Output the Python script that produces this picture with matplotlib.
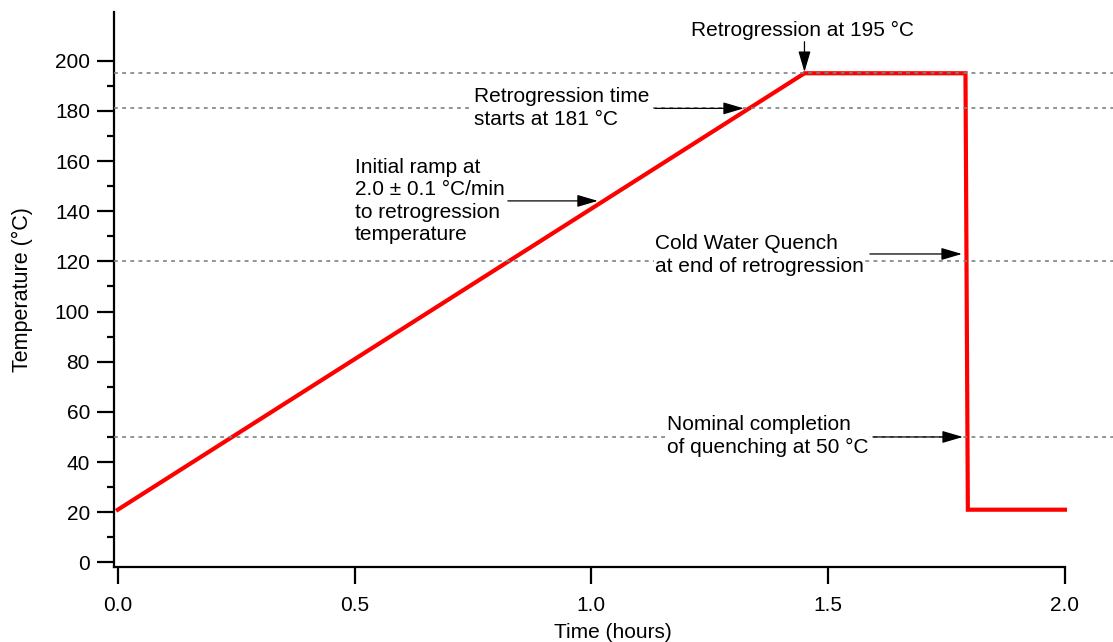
import matplotlib.pyplot as plt
import numpy as np

plt.rcParams['font.family'] = ['Liberation Sans', 'DejaVu Sans']

# temperature profile (hours, deg C)
time_h = [0.0, 1.45, 1.79, 1.795, 2.0]
temp_c = [21, 195, 195, 21, 21]

# reference levels (deg C)
ref_levels = [195, 181, 120, 50]

fig = plt.figure(figsize=(11.13, 6.42), dpi=100)
ax = fig.add_axes([0.102, 0.117, 0.898, 0.865])

for lvl in ref_levels:
    ax.axhline(lvl, color='#808080', linestyle=(0, (2.3, 2.6)), linewidth=1.2, zorder=3)

ax.plot(time_h, temp_c, color='#ff0000', linewidth=3, zorder=2, solid_joinstyle='miter')

ax.set_xlim(-0.009, 2.1015)
ax.set_ylim(-1.8, 219.6)

ax.spines['top'].set_visible(False)
ax.spines['right'].set_visible(False)
ax.spines['left'].set_linewidth(1.6)
ax.spines['bottom'].set_linewidth(1.6)
ax.spines['bottom'].set_bounds(-0.009, 2.0)

ax.set_xticks([0.0, 0.5, 1.0, 1.5, 2.0])
ax.set_xticklabels(['0.0', '0.5', '1.0', '1.5', '2.0'])
ax.set_yticks(np.arange(0, 201, 20))
ax.set_yticks(np.arange(10, 200, 20), minor=True)
ax.tick_params(axis='both', which='major', direction='out', length=12, width=1.6,
               labelsize=15, colors='black')
ax.tick_params(axis='x', pad=9)
ax.tick_params(axis='y', pad=5)
ax.tick_params(axis='y', which='minor', direction='out', length=5, width=1.6)

ax.set_xlabel('Time (hours)', fontsize=15, labelpad=6)
ax.set_ylabel('Temperature (°C)', fontsize=15.5, labelpad=16)

box = dict(facecolor='white', edgecolor='none', pad=0.5)
arrow = dict(arrowstyle='-|>,head_length=0.85,head_width=0.25', color='black', lw=0.9,
             mutation_scale=15, shrinkA=0, shrinkB=0)
fs = 15
ls = 1.24

def px_x(px):
    return (px - 118) / 473.5

def px_y(py):
    return (562 - py) / 2.505

# Retrogression at 195
ax.text(px_x(803), px_y(31), 'Retrogression at 195 °C', ha='center', va='center', fontsize=fs, bbox=box, zorder=5)
ax.annotate('', xy=(1.45, 195.5), xytext=(1.45, px_y(42)), arrowprops=arrow, zorder=5)

# Retrogression time starts
ax.text(px_x(474), px_y(108), 'Retrogression time\nstarts at 181 °C', ha='left', va='center',
        fontsize=fs, linespacing=ls, bbox=box, zorder=5)
ax.annotate('', xy=(px_x(744), 181), xytext=(px_x(655), 181), arrowprops=arrow, zorder=5)

# Initial ramp
ax.text(px_x(355), px_y(201), 'Initial ramp at\n2.0 ± 0.1 °C/min\nto retrogression\ntemperature',
        ha='left', va='center', fontsize=fs, linespacing=ls, bbox=box, zorder=5)
ax.annotate('', xy=(px_x(598), px_y(201)), xytext=(px_x(508), px_y(201)), arrowprops=arrow, zorder=5)

# Cold water quench
ax.text(px_x(655), px_y(255), 'Cold Water Quench\nat end of retrogression',
        ha='left', va='center', fontsize=fs, linespacing=ls, bbox=box, zorder=5)
ax.annotate('', xy=(px_x(962), px_y(254)), xytext=(px_x(870), px_y(254)), arrowprops=arrow, zorder=5)

# Nominal completion
ax.text(px_x(667), px_y(436), 'Nominal completion\nof quenching at 50 °C',
        ha='left', va='center', fontsize=fs, linespacing=ls, bbox=box, zorder=5)
ax.annotate('', xy=(px_x(963), 50), xytext=(px_x(873), 50), arrowprops=arrow, zorder=5)

fig.savefig('out.png', dpi=100)
